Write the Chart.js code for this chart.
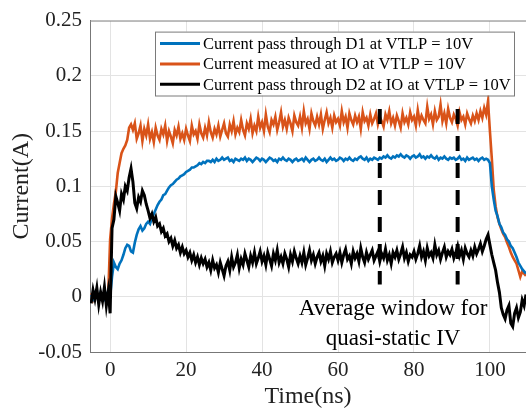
<!DOCTYPE html>
<html>
<head>
<meta charset="utf-8">
<script src="https://cdn.jsdelivr.net/npm/chart.js@4.4.1/dist/chart.umd.min.js"></script>
<style>
  html, body { margin: 0; padding: 0; background: #fff; }
  #wrap { width: 526px; height: 414px; }
</style>
</head>
<body>
<div id="wrap"><canvas id="tlpChart" width="526" height="414"></canvas></div>
<script>
// time base (ns), 0.5 ns sampling
var timeNs = [-5,-4.5,-4,-3.5,-3,-2.5,-2,-1.5,-1,-0.5,
  0,0.5,1,1.5,2,2.5,3,3.5,4,4.5,
  5,5.5,6,6.5,7,7.5,8,8.5,9,9.5,
  10,10.5,11,11.5,12,12.5,13,13.5,14,14.5,
  15,15.5,16,16.5,17,17.5,18,18.5,19,19.5,
  20,20.5,21,21.5,22,22.5,23,23.5,24,24.5,
  25,25.5,26,26.5,27,27.5,28,28.5,29,29.5,
  30,30.5,31,31.5,32,32.5,33,33.5,34,34.5,
  35,35.5,36,36.5,37,37.5,38,38.5,39,39.5,
  40,40.5,41,41.5,42,42.5,43,43.5,44,44.5,
  45,45.5,46,46.5,47,47.5,48,48.5,49,49.5,
  50,50.5,51,51.5,52,52.5,53,53.5,54,54.5,
  55,55.5,56,56.5,57,57.5,58,58.5,59,59.5,
  60,60.5,61,61.5,62,62.5,63,63.5,64,64.5,
  65,65.5,66,66.5,67,67.5,68,68.5,69,69.5,
  70,70.5,71,71.5,72,72.5,73,73.5,74,74.5,
  75,75.5,76,76.5,77,77.5,78,78.5,79,79.5,
  80,80.5,81,81.5,82,82.5,83,83.5,84,84.5,
  85,85.5,86,86.5,87,87.5,88,88.5,89,89.5,
  90,90.5,91,91.5,92,92.5,93,93.5,94,94.5,
  95,95.5,96,96.5,97,97.5,98,98.5,99,99.5,
  100,100.5,101,101.5,102,102.5,103,103.5,104,104.5,
  105,105.5,106,106.5,107,107.5,108,108.5,109,109.5,110];

// Current pass through D1 (A)
var currentD1 = [0.002,-0.002,0.003,0.000,-0.003,0.004,0.001,-0.002,0.003,0.001,
  0.000,0.018,0.031,0.027,0.025,0.030,0.033,0.038,0.044,0.047,
  0.046,0.041,0.040,0.049,0.056,0.061,0.064,0.060,0.062,0.066,
  0.068,0.066,0.071,0.075,0.079,0.083,0.086,0.088,0.092,0.093,
  0.096,0.099,0.101,0.102,0.104,0.106,0.107,0.109,0.110,0.111,
  0.113,0.114,0.115,0.117,0.117,0.118,0.119,0.121,0.120,0.122,
  0.121,0.123,0.123,0.122,0.124,0.122,0.125,0.123,0.124,0.126,
  0.124,0.125,0.126,0.123,0.124,0.122,0.125,0.124,0.123,0.125,
  0.124,0.126,0.123,0.125,0.124,0.122,0.124,0.126,0.125,0.123,
  0.125,0.124,0.122,0.124,0.126,0.125,0.123,0.124,0.122,0.125,
  0.124,0.126,0.124,0.123,0.125,0.124,0.122,0.124,0.125,0.123,
  0.124,0.125,0.123,0.126,0.124,0.122,0.124,0.125,0.123,0.124,
  0.126,0.124,0.123,0.125,0.122,0.124,0.126,0.124,0.125,0.123,
  0.124,0.126,0.125,0.123,0.125,0.124,0.126,0.124,0.123,0.125,
  0.124,0.126,0.127,0.125,0.124,0.126,0.123,0.125,0.124,0.126,
  0.125,0.124,0.126,0.125,0.127,0.126,0.128,0.126,0.125,0.127,
  0.126,0.128,0.127,0.129,0.127,0.126,0.128,0.127,0.125,0.127,
  0.128,0.126,0.127,0.129,0.126,0.127,0.125,0.127,0.126,0.128,
  0.126,0.125,0.127,0.124,0.126,0.125,0.127,0.125,0.124,0.126,
  0.125,0.126,0.124,0.125,0.127,0.124,0.125,0.123,0.126,0.124,
  0.125,0.126,0.124,0.125,0.123,0.125,0.126,0.124,0.125,0.124,
  0.121,0.100,0.088,0.078,0.073,0.066,0.063,0.058,0.056,0.052,
  0.050,0.046,0.044,0.040,0.036,0.031,0.028,0.025,0.023,0.021,0.020];

// Current measured at IO (A)
var currentIO = [0.003,-0.003,0.001,0.004,-0.004,0.002,-0.002,0.003,-0.001,0.002,
  0.052,0.071,0.084,0.095,0.112,0.121,0.130,0.134,0.137,0.142,
  0.153,0.156,0.151,0.157,0.143,0.148,0.155,0.141,0.152,0.146,
  0.156,0.143,0.149,0.140,0.153,0.146,0.142,0.152,0.147,0.155,
  0.141,0.150,0.145,0.139,0.151,0.146,0.154,0.143,0.148,0.142,
  0.152,0.146,0.141,0.155,0.147,0.150,0.143,0.156,0.148,0.144,
  0.153,0.146,0.158,0.149,0.144,0.152,0.147,0.155,0.145,0.151,
  0.157,0.148,0.145,0.156,0.150,0.159,0.147,0.153,0.149,0.160,
  0.151,0.146,0.157,0.152,0.161,0.148,0.155,0.150,0.163,0.153,
  0.158,0.150,0.165,0.154,0.149,0.160,0.156,0.163,0.151,0.158,
  0.167,0.154,0.160,0.152,0.162,0.157,0.150,0.164,0.158,0.155,
  0.163,0.153,0.168,0.157,0.161,0.152,0.166,0.159,0.155,0.163,
  0.156,0.165,0.152,0.160,0.167,0.157,0.162,0.153,0.164,0.158,
  0.161,0.155,0.168,0.158,0.163,0.153,0.166,0.160,0.156,0.164,
  0.158,0.163,0.152,0.167,0.159,0.162,0.155,0.165,0.157,0.161,
  0.166,0.156,0.163,0.159,0.154,0.165,0.160,0.168,0.157,0.162,
  0.155,0.164,0.159,0.153,0.166,0.158,0.162,0.156,0.167,0.160,
  0.163,0.155,0.169,0.158,0.164,0.160,0.157,0.172,0.161,0.165,
  0.156,0.168,0.160,0.163,0.174,0.159,0.166,0.157,0.170,0.162,
  0.158,0.165,0.161,0.155,0.167,0.160,0.163,0.156,0.166,0.161,
  0.157,0.164,0.159,0.166,0.160,0.168,0.162,0.171,0.165,0.177,
  0.150,0.125,0.097,0.082,0.072,0.066,0.061,0.057,0.054,0.049,
  0.045,0.040,0.036,0.033,0.030,0.024,0.018,0.023,0.021,0.019,0.020];

// Current pass through D2 at IO (A)
var currentD2 = [-0.006,0.006,-0.002,0.008,-0.007,0.004,-0.004,0.009,-0.008,0.005,
  -0.015,0.062,0.070,0.091,0.085,0.078,0.093,0.088,0.100,0.096,
  0.108,0.116,0.104,0.085,0.080,0.090,0.086,0.096,0.092,0.084,
  0.078,0.071,0.075,0.068,0.072,0.064,0.066,0.059,0.062,0.055,
  0.057,0.050,0.053,0.046,0.051,0.044,0.047,0.040,0.045,0.039,
  0.042,0.036,0.040,0.033,0.038,0.031,0.036,0.029,0.035,0.030,
  0.034,0.027,0.031,0.024,0.033,0.026,0.029,0.022,0.031,0.025,
  0.019,0.028,0.032,0.024,0.036,0.027,0.031,0.038,0.026,0.034,
  0.029,0.039,0.033,0.027,0.037,0.031,0.040,0.030,0.035,0.041,
  0.032,0.037,0.029,0.040,0.034,0.028,0.039,0.033,0.042,0.031,
  0.036,0.030,0.039,0.034,0.027,0.038,0.032,0.041,0.035,0.030,
  0.037,0.031,0.040,0.029,0.035,0.042,0.033,0.038,0.030,0.036,
  0.040,0.032,0.037,0.028,0.039,0.034,0.041,0.031,0.036,0.039,
  0.033,0.040,0.031,0.038,0.043,0.034,0.037,0.030,0.041,0.035,
  0.039,0.032,0.044,0.036,0.031,0.040,0.034,0.038,0.042,0.033,
  0.037,0.041,0.032,0.039,0.035,0.043,0.033,0.038,0.030,0.040,
  0.036,0.042,0.034,0.039,0.045,0.035,0.040,0.032,0.038,0.036,
  0.041,0.034,0.039,0.046,0.036,0.041,0.033,0.044,0.037,0.040,
  0.035,0.047,0.038,0.042,0.034,0.040,0.045,0.036,0.041,0.038,
  0.043,0.035,0.040,0.046,0.037,0.042,0.034,0.044,0.039,0.036,
  0.042,0.037,0.045,0.039,0.043,0.048,0.041,0.046,0.052,0.056,
  0.047,0.038,0.031,0.024,0.013,0.004,-0.010,-0.016,-0.020,-0.012,
  -0.008,-0.024,-0.027,-0.015,-0.010,-0.019,-0.014,-0.003,-0.008,0.002,0.004];

var seriesLabels = [
  'Current pass through D1 at VTLP = 10V',
  'Current measured at IO at VTLP = 10V',
  'Current pass through D2 at IO at VTLP = 10V'
];

// averaging window markers
var windowX = [71, 91.5];
var windowY = [0.170, 0.011];

var xTicks = [0, 20, 40, 60, 80, 100];
var yTicks = [-0.05, 0, 0.05, 0.1, 0.15, 0.2, 0.25];

var noteLines = ['Average window for', 'quasi-static IV'];
var noteX = 74.5;
var noteY = [-0.011, -0.0385];

var FONT = '"Liberation Serif", "Times New Roman", serif';

function toPoints(ys) {
  return ys.map(function(y, i) { return { x: timeNs[i], y: y }; });
}

var datasets = [
  { label: seriesLabels[0], data: toPoints(currentD1), borderColor: '#0072BD', borderWidth: 2.6, order: 3 },
  { label: seriesLabels[1], data: toPoints(currentIO), borderColor: '#D95319', borderWidth: 2.6, order: 4 },
  { label: seriesLabels[2], data: toPoints(currentD2), borderColor: '#000000', borderWidth: 3, order: 2 }
];
windowX.forEach(function(wx) {
  datasets.push({
    label: '',
    data: windowY.map(function(wy) { return { x: wx, y: wy }; }),
    borderColor: '#000000', borderWidth: 4, borderDash: [15, 12], order: 0
  });
});

// legend box drawn inside the plot area, MATLAB style
var insideLegend = {
  id: 'insideLegend',
  afterDraw: function(chart) {
    var ctx = chart.ctx, area = chart.chartArea;
    var left = area.left + 65, right = area.right - 12;
    var top = area.top + 11, rowH = 20.3;
    ctx.save();
    // top frame line
    ctx.strokeStyle = '#8c8c8c';
    ctx.lineWidth = 1;
    ctx.beginPath();
    ctx.moveTo(area.left, area.top + 0.5);
    ctx.lineTo(area.right, area.top + 0.5);
    ctx.stroke();

    ctx.fillStyle = '#fff';
    ctx.fillRect(left, top, right - left, rowH * 3 + 3);
    ctx.strokeStyle = '#7a7a7a';
    ctx.strokeRect(left + 0.5, top + 0.5, right - left, rowH * 3 + 3);
    ctx.font = '16.5px ' + FONT;
    ctx.textBaseline = 'middle';
    ctx.textAlign = 'left';
    for (var i = 0; i < 3; i++) {
      var ds = chart.data.datasets[i];
      var y = top + 12 + i * rowH;
      ctx.strokeStyle = ds.borderColor;
      ctx.lineWidth = 3;
      ctx.beginPath();
      ctx.moveTo(left + 5, y);
      ctx.lineTo(left + 45, y);
      ctx.stroke();
      ctx.fillStyle = '#000';
      ctx.fillText(ds.label, left + 48, y + 1);
    }
    ctx.restore();
  }
};

var windowNote = {
  id: 'windowNote',
  afterDatasetsDraw: function(chart) {
    var ctx = chart.ctx, sx = chart.scales.x, sy = chart.scales.y;
    ctx.save();
    ctx.font = '23px ' + FONT;
    ctx.fillStyle = '#000';
    ctx.textAlign = 'center';
    ctx.textBaseline = 'middle';
    noteLines.forEach(function(t, i) {
      ctx.fillText(t, sx.getPixelForValue(noteX), sy.getPixelForValue(noteY[i]));
    });
    ctx.restore();
  }
};

var ctx = document.getElementById('tlpChart').getContext('2d');
var tlpChart = new Chart(ctx, {
  type: 'line',
  data: { datasets: datasets },
  options: {
    responsive: false,
    animation: false,
    layout: { padding: { top: 13, right: 0, left: 0, bottom: 0 } },
    elements: { point: { radius: 0 }, line: { tension: 0 } },
    plugins: { legend: { display: false }, tooltip: { enabled: false } },
    scales: {
      x: {
        type: 'linear', min: -5.3, max: 109.5,
        afterBuildTicks: function(s) { s.ticks = xTicks.map(function(v) { return { value: v }; }); },
        afterFit: function(s) { s.height = 62; },
        grid: { color: '#e3e3e3', drawTicks: false },
        border: { color: '#777', width: 1 },
        ticks: { padding: 6, color: '#222', font: { family: FONT, size: 21 } },
        title: { display: true, text: 'Time(ns)', color: '#222', padding: { top: 0, bottom: 3 }, font: { family: FONT, size: 24 } }
      },
      y: {
        type: 'linear', min: -0.05, max: 0.25,
        afterBuildTicks: function(s) { s.ticks = yTicks.map(function(v) { return { value: v }; }); },
        afterFit: function(s) { s.width = 90; },
        grid: { color: '#e3e3e3', drawTicks: false },
        border: { color: '#777', width: 1 },
        ticks: {
          padding: 8, color: '#222', font: { family: FONT, size: 21 },
          callback: function(v) { return String(parseFloat(v.toFixed(2))); }
        },
        title: { display: true, text: 'Current(A)', color: '#222', padding: { top: 7, bottom: 0 }, font: { family: FONT, size: 24 } }
      }
    }
  },
  plugins: [windowNote, insideLegend]
});
</script>
</body>
</html>
